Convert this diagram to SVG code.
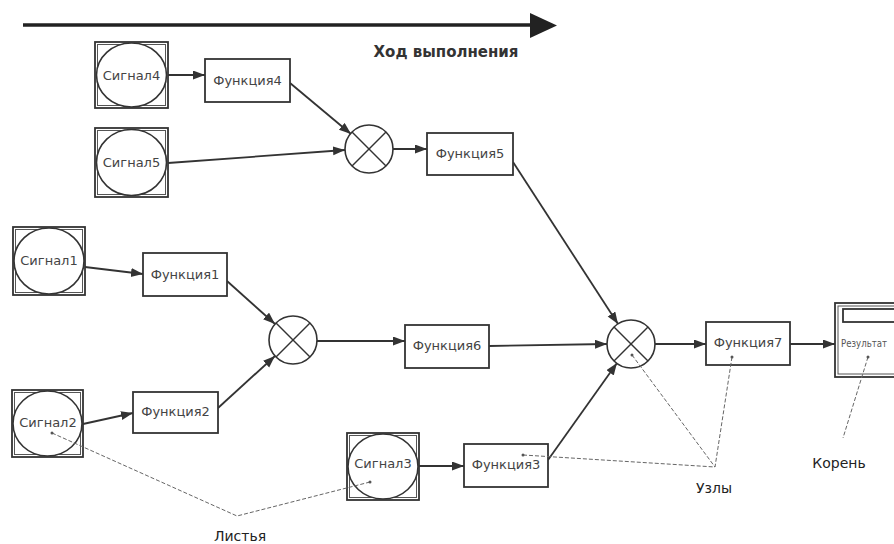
<svg xmlns="http://www.w3.org/2000/svg" width="894" height="544" viewBox="0 0 894 544">
<style>
.box{fill:#fff;stroke:#333;stroke-width:1.8}
.inner{fill:none;stroke:#555;stroke-width:1}
.circ{fill:#fff;stroke:#333;stroke-width:1.6}
.x{stroke:#333;stroke-width:1.4}
.lbl{font-family:"DejaVu Sans",sans-serif;font-size:13px;fill:#444;text-anchor:middle}
.note{font-family:"DejaVu Sans",sans-serif;font-size:14px;fill:#222;text-anchor:middle}
.conn{fill:none;stroke:#333;stroke-width:1.8}
.dash{fill:none;stroke:#666;stroke-width:1;stroke-dasharray:4 2}
.dot{fill:#555}
</style>
<defs>
<marker id="ah" markerUnits="userSpaceOnUse" markerWidth="13" markerHeight="10" refX="12" refY="4.5" orient="auto">
<path d="M0,0 L12,4.5 L0,9 z" fill="#333"/>
</marker>
</defs>
<rect width="894" height="544" fill="#fff"/>
<g id="timeline">
<line x1="23" y1="25" x2="532" y2="25" stroke="#222" stroke-width="3.5"/>
<path d="M530,13 L557,25.5 L530,38 z" fill="#222"/>
<text x="446" y="57" font-family="DejaVu Sans,sans-serif" font-size="15" font-weight="bold" fill="#333" text-anchor="middle">Ход выполнения</text>
</g>
<g id="connectors">
<line class="conn" x1="168" y1="75" x2="205" y2="75" marker-end="url(#ah)"/>
<line class="conn" x1="168" y1="163" x2="345" y2="150" marker-end="url(#ah)"/>
<line class="conn" x1="290" y1="83" x2="351" y2="134" marker-end="url(#ah)"/>
<line class="conn" x1="393" y1="149" x2="427" y2="149" marker-end="url(#ah)"/>
<line class="conn" x1="513" y1="162" x2="618" y2="324" marker-end="url(#ah)"/>
<line class="conn" x1="85" y1="267" x2="143" y2="274" marker-end="url(#ah)"/>
<line class="conn" x1="227" y1="281" x2="275" y2="324" marker-end="url(#ah)"/>
<line class="conn" x1="83" y1="424" x2="133" y2="413" marker-end="url(#ah)"/>
<line class="conn" x1="218" y1="408" x2="275" y2="356" marker-end="url(#ah)"/>
<line class="conn" x1="317" y1="341" x2="405" y2="341" marker-end="url(#ah)"/>
<line class="conn" x1="489" y1="346" x2="607" y2="344" marker-end="url(#ah)"/>
<line class="conn" x1="419" y1="466" x2="464" y2="466" marker-end="url(#ah)"/>
<line class="conn" x1="548" y1="460" x2="617" y2="363" marker-end="url(#ah)"/>
<line class="conn" x1="655" y1="344" x2="706" y2="344" marker-end="url(#ah)"/>
<line class="conn" x1="790" y1="344" x2="835" y2="344" marker-end="url(#ah)"/>
</g>
<g id="signal4">
<rect class="box" x="95" y="42" width="73" height="66"/>
<rect class="inner" x="97.5" y="44.5" width="68" height="61"/>
<ellipse class="circ" cx="131.5" cy="75" rx="35" ry="32"/>
<text class="lbl" x="131.5" y="80">Сигнал4</text>
</g>
<g id="signal5">
<rect class="box" x="95" y="128" width="73" height="69"/>
<rect class="inner" x="97.5" y="130.5" width="68" height="64"/>
<ellipse class="circ" cx="131.5" cy="162.5" rx="35" ry="33"/>
<text class="lbl" x="131.5" y="167">Сигнал5</text>
</g>
<g id="signal1">
<rect class="box" x="13" y="227" width="72" height="68"/>
<rect class="inner" x="15.5" y="229.5" width="67" height="63"/>
<ellipse class="circ" cx="49" cy="261" rx="35" ry="33"/>
<text class="lbl" x="49" y="265">Сигнал1</text>
</g>
<g id="signal2">
<rect class="box" x="12" y="390" width="71" height="67"/>
<rect class="inner" x="14.5" y="392.5" width="66" height="62"/>
<ellipse class="circ" cx="47.5" cy="423.5" rx="34.5" ry="32.5"/>
<text class="lbl" x="48" y="427">Сигнал2</text>
</g>
<g id="signal3">
<rect class="box" x="347" y="433" width="72" height="67"/>
<rect class="inner" x="349.5" y="435.5" width="67" height="62"/>
<ellipse class="circ" cx="383" cy="466.5" rx="35" ry="32.5"/>
<text class="lbl" x="383" y="468">Сигнал3</text>
</g>
<g id="func4">
<rect class="box" x="205" y="59" width="85" height="43"/>
<text class="lbl" x="247.5" y="85">Функция4</text>
</g>
<g id="func5">
<rect class="box" x="427" y="133" width="86" height="42"/>
<text class="lbl" x="470" y="158">Функция5</text>
</g>
<g id="func1">
<rect class="box" x="143" y="253" width="84" height="43"/>
<text class="lbl" x="185" y="279">Функция1</text>
</g>
<g id="func2">
<rect class="box" x="133" y="392" width="85" height="41"/>
<text class="lbl" x="175.5" y="416">Функция2</text>
</g>
<g id="func6">
<rect class="box" x="405" y="325" width="84" height="43"/>
<text class="lbl" x="447" y="350">Функция6</text>
</g>
<g id="func3">
<rect class="box" x="464" y="444" width="84" height="43"/>
<text class="lbl" x="506" y="469">Функция3</text>
</g>
<g id="func7">
<rect class="box" x="706" y="322" width="84" height="43"/>
<text class="lbl" x="748" y="347">Функция7</text>
</g>
<g id="mult1">
<circle class="circ" cx="369" cy="149" r="24"/>
<line class="x" x1="352" y1="132" x2="386" y2="166"/>
<line class="x" x1="386" y1="132" x2="352" y2="166"/>
</g>
<g id="mult2">
<circle class="circ" cx="293" cy="340" r="24"/>
<line class="x" x1="276" y1="323" x2="310" y2="357"/>
<line class="x" x1="310" y1="323" x2="276" y2="357"/>
</g>
<g id="mult3">
<circle class="circ" cx="631" cy="344" r="24"/>
<line class="x" x1="614" y1="327" x2="648" y2="361"/>
<line class="x" x1="648" y1="327" x2="614" y2="361"/>
</g>
<g id="result">
<rect class="box" x="835" y="303" width="80" height="74"/>
<rect class="inner" x="838" y="306" width="74" height="68"/>
<rect class="box" x="843" y="309" width="70" height="13" stroke-width="1.5"/>
<text x="841" y="347" font-family="DejaVu Sans,sans-serif" font-size="11" fill="#555" textLength="46" lengthAdjust="spacingAndGlyphs">Результат</text>
</g>
<g id="annotations">
<polyline class="dash" points="52,433 237,516 370,482"/>
<line class="dash" x1="632" y1="355" x2="715" y2="467"/>
<line class="dash" x1="732" y1="357" x2="715" y2="467"/>
<line class="dash" x1="523" y1="455" x2="715" y2="467"/>
<line class="dash" x1="868" y1="357" x2="843" y2="438"/>
<circle class="dot" cx="52" cy="433" r="1.5"/>
<circle class="dot" cx="370" cy="482" r="1.5"/>
<circle class="dot" cx="632" cy="355" r="1.5"/>
<circle class="dot" cx="732" cy="357" r="1.5"/>
<circle class="dot" cx="523" cy="455" r="1.5"/>
<circle class="dot" cx="868" cy="357" r="1.5"/>
<text class="note" x="240" y="541">Листья</text>
<text class="note" x="714" y="493">Узлы</text>
<text class="note" x="839" y="468">Корень</text>
</g>
</svg>
